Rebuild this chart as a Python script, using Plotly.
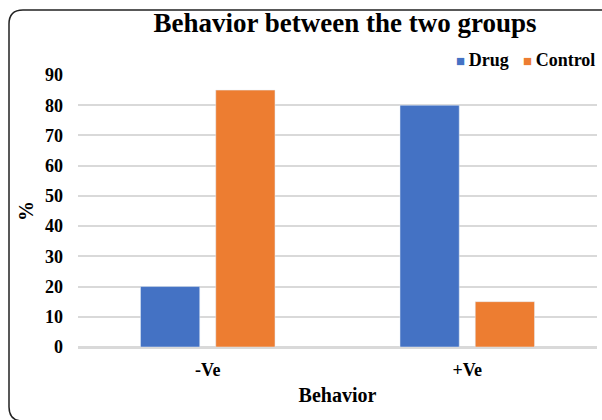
import plotly.graph_objects as go

categories = ["-Ve", "+Ve"]
drug = [20, 80]
control = [85, 15]
series_names = ["Drug", "Control"]
series_colors = ["#4472c4", "#ed7d31"]
y_ticks = [0, 10, 20, 30, 40, 50, 60, 70, 80, 90]

W, H = 602, 420
ML, MR, MT, MB = 78, 5, 75, 73
PW, PH = W - ML - MR, H - MT - MB


def px(x):
    return (x - ML) / PW


def py(y):
    return (H - MB - y) / PH


font_family = "Liberation Serif, Times New Roman, serif"
bold = dict(family=font_family, color="black", weight="bold")

fig = go.Figure()
for name, vals, color in zip(series_names, [drug, control], series_colors):
    fig.add_trace(go.Bar(name=name, x=categories, y=vals, marker_color=color,
                         showlegend=False))

# rounded frame around the chart (top-left and bottom-left corners visible)
r = 14
x0, y0, y1, x1 = 9, 10, 421, 700
path = (
    f"M {px(x1)},{py(y0)} L {px(x0 + r)},{py(y0)} "
    f"Q {px(x0)},{py(y0)} {px(x0)},{py(y0 + r)} "
    f"L {px(x0)},{py(y1 - r)} "
    f"Q {px(x0)},{py(y1)} {px(x0 + r)},{py(y1)} "
    f"L {px(x1)},{py(y1)}"
)
fig.add_shape(type="path", path=path, xref="paper", yref="paper",
              line=dict(color="#222222", width=1.5))

# compact legend: coloured square followed by the series name
legend_right = [511, 597]
for name, color, xr in zip(series_names, series_colors, legend_right):
    fig.add_annotation(
        text=f"<span style='color:{color};font-size:15px'>■</span>\u2009{name}",
        xref="paper", yref="paper", x=px(xr), y=py(60),
        xanchor="right", yanchor="middle", showarrow=False,
        font=dict(size=18, **bold),
    )

fig.update_layout(
    width=W, height=H,
    margin=dict(l=ML, r=MR, t=MT, b=MB),
    paper_bgcolor="white", plot_bgcolor="white",
    font=dict(family=font_family, color="black"),
    barmode="group", bargap=0.42, bargroupgap=0.213,
    title=dict(text="Behavior between the two groups",
               font=dict(size=27, **bold),
               xref="container", x=345 / W, xanchor="center",
               yref="container", y=1 - 23 / H, yanchor="middle"),
    showlegend=False,
)
fig.update_xaxes(
    tickfont=dict(size=18, **bold),
    title=dict(text="Behavior", font=dict(size=20, **bold), standoff=9),
    showline=True, linecolor="#d9d9d9", linewidth=1.5, ticks="", ticklabelstandoff=6,
)
fig.update_yaxes(
    range=[0, 90], tickvals=y_ticks,
    tickfont=dict(size=18, **bold),
    title=dict(text="%", font=dict(size=20, **bold), standoff=6),
    showgrid=True, gridcolor="#d9d9d9", gridwidth=1.5,
    zeroline=True, zerolinecolor="#d9d9d9", zerolinewidth=1.5,
    ticks="", ticklabelstandoff=14,
)

fig.write_html("out.html")
